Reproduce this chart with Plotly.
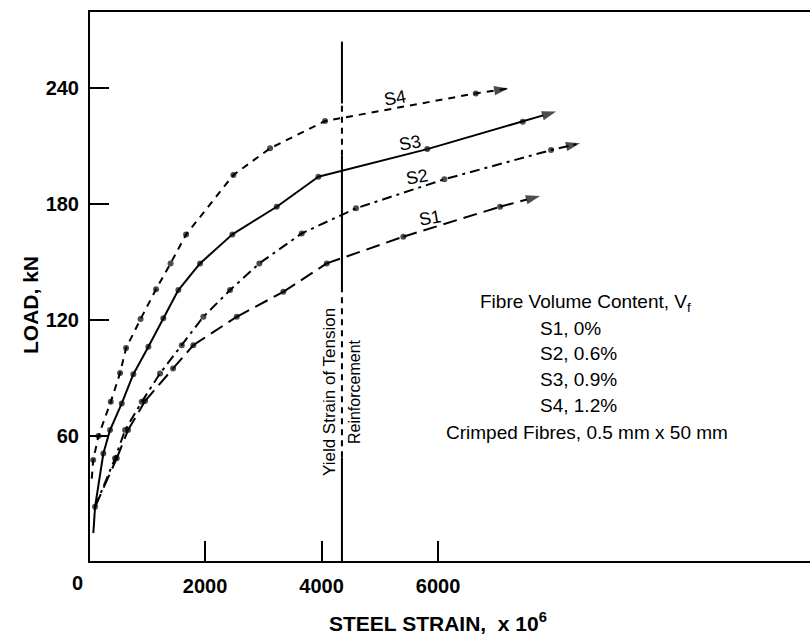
import plotly.graph_objects as go

# Load vs. steel strain (strain x 10^6, load in kN) for four fibre contents
S1_STRAIN = [112, 484, 678, 970, 1451, 1799, 2544, 3344, 4089, 5404, 7064]
S1_LOAD = [23.4, 48.5, 63.1, 78.1, 95.0, 107.0, 121.7, 134.6, 149.3, 163.1, 178.6]

S2_STRAIN = [112, 455, 627, 913, 1227, 1600, 1971, 2429, 2932, 3660, 4592, 6108, 7940]
S2_LOAD = [23.4, 48.5, 63.1, 77.7, 92.4, 107.0, 121.7, 135.5, 149.3, 164.8, 177.8, 192.8, 207.9]

S3_STRAIN = [82, 112, 254, 369, 570, 769, 1027, 1284, 1542, 1914, 2469, 3231, 3945, 5815, 7454]
S3_LOAD = [9.8, 23.4, 51.0, 63.1, 76.9, 92.0, 106.2, 120.9, 135.5, 149.3, 164.3, 178.6, 194.1, 208.4, 222.6]

S4_STRAIN = [55, 80, 170, 381, 541, 644, 893, 1159, 1408, 1674, 2486, 3116, 4060, 6647]
S4_LOAD = [38.0, 47.6, 60.0, 77.7, 92.6, 105.5, 120.5, 135.9, 149.3, 164.2, 195.0, 208.8, 222.9, 237.2]

# end points of the extrapolation arrows
ARROW_STRAIN = {"S1": 7751, "S2": 8438, "S3": 8026, "S4": 7207}
ARROW_LOAD = {"S1": 184.1, "S2": 211.4, "S3": 227.8, "S4": 239.8}

SERIES_NAMES = ["S1", "S2", "S3", "S4"]
LEGEND_LINES = ["S1, 0%", "S2, 0.6%", "S3, 0.9%", "S4, 1.2%"]

YIELD_STRAIN = 4350

X_TICKS = [2000, 4000, 6000]
Y_TICKS = [60, 120, 180, 240]

FONT = "Liberation Sans, Arial, sans-serif"

series = {
    "S1": (S1_STRAIN, S1_LOAD, "14px,7px"),
    "S2": (S2_STRAIN, S2_LOAD, "10px,5px,3px,5px"),
    "S3": (S3_STRAIN, S3_LOAD, "solid"),
    "S4": (S4_STRAIN, S4_LOAD, "7px,6px"),
}

fig = go.Figure()

for name in SERIES_NAMES:
    xs, ys, dash = series[name]
    x_all = list(xs) + [ARROW_STRAIN[name]]
    y_all = list(ys) + [ARROW_LOAD[name]]
    n = len(xs)
    fig.add_trace(go.Scatter(
        x=x_all, y=y_all, mode="lines+markers", name=name,
        line=dict(color="black", width=2, dash=dash),
        marker=dict(color="black",
                    symbol=["circle"] * n + ["arrow"],
                    size=[6] * n + [15],
                    angleref="previous",
                    line=dict(width=0)),
        showlegend=False, hoverinfo="skip",
    ))

# yield strain marker line: solid and broken stretches
yield_segments = [
    (-4.6, 49.0, "solid"),
    (49.0, 135.5, "6px,5px"),
    (135.5, 205.0, "solid"),
    (205.0, 232.0, "6px,5px"),
    (232.0, 264.0, "solid"),
]
for y0, y1, dash in yield_segments:
    fig.add_trace(go.Scatter(
        x=[YIELD_STRAIN, YIELD_STRAIN], y=[y0, y1], mode="lines",
        line=dict(color="black", width=2, dash=dash),
        showlegend=False, hoverinfo="skip",
    ))

annotations = []

# curve labels
label_pos = {"S4": (5262, 234.8), "S3": (5519, 211.5), "S2": (5640, 194.0), "S1": (5863, 172.7)}
for name in SERIES_NAMES:
    lx, ly = label_pos[name]
    annotations.append(dict(x=lx, y=ly, xref="x", yref="y", text=name, showarrow=False,
                            textangle=-10, xanchor="center", yanchor="middle",
                            font=dict(family=FONT, size=18, color="black")))

# yield line caption
annotations.append(dict(x=YIELD_STRAIN, y=83, xref="x", yref="y", text="Yield Strain of Tension",
                        showarrow=False, textangle=-90, xanchor="right", yanchor="middle", xshift=-1,
                        font=dict(family=FONT, size=17, color="black")))
annotations.append(dict(x=YIELD_STRAIN, y=83, xref="x", yref="y", text="Reinforcement",
                        showarrow=False, textangle=-90, xanchor="left", yanchor="middle", xshift=2,
                        font=dict(family=FONT, size=16, color="black")))

# fibre content key (pixel placed)
key_font = dict(family=FONT, size=19, color="black")
annotations.append(dict(x=585, y=303, text="Fibre Volume Content, V<sub>f</sub>",
                        showarrow=False, xanchor="center", font=key_font))
for i, line in enumerate(LEGEND_LINES):
    annotations.append(dict(x=538, y=328 + 25.7 * i, text=line, showarrow=False,
                            xanchor="left", font=key_font))
annotations.append(dict(x=587, y=432, text="Crimped Fibres, 0.5 mm x 50 mm", showarrow=False,
                        xanchor="center", font=key_font))

# axis titles and origin label (pixel placed)
title_font = dict(family=FONT, size=21, color="black")
annotations.append(dict(x=30, y=305, text="<b>LOAD, kN</b>", showarrow=False, textangle=-90,
                        xanchor="center", font=title_font))
annotations.append(dict(x=438, y=622, text="<b>STEEL STRAIN,  x 10<sup>6</sup></b>", showarrow=False,
                        xanchor="center", font=title_font))
annotations.append(dict(x=77, y=583, text="<b>0</b>", showarrow=False,
                        xanchor="center", font=dict(family=FONT, size=20, color="black")))

W, H = 810, 634
ML, MR, MT, MB = 90, 0, 12, 73

def px_to_paper(a):
    # convert pixel-positioned annotations into paper coordinates
    if a.get("xref") == "x":
        return a
    px, py = a["x"], a["y"]
    a["xref"] = "paper"
    a["yref"] = "paper"
    a["x"] = (px - ML) / (W - ML - MR)
    a["y"] = (H - MB - py) / (H - MT - MB)
    a["yanchor"] = "middle"
    return a

annotations = [px_to_paper(a) for a in annotations]

fig.update_layout(
    width=W, height=H,
    margin=dict(l=ML, r=MR, t=MT, b=MB),
    plot_bgcolor="white", paper_bgcolor="white",
    annotations=annotations,
    xaxis=dict(range=[25, 12385], showgrid=False, zeroline=False,
               showline=True, linecolor="black", linewidth=2, mirror=True,
               ticks="inside", ticklen=20, tickwidth=2, tickcolor="black",
               tickvals=X_TICKS, ticktext=[f"<b>{v}</b>" for v in X_TICKS],
               tickfont=dict(family=FONT, size=20, color="black"),
               ticklabelstandoff=6),
    yaxis=dict(range=[-4.6, 279.3], showgrid=False, zeroline=False,
               showline=True, linecolor="black", linewidth=2,
               ticks="inside", ticklen=19, tickwidth=2, tickcolor="black",
               tickvals=Y_TICKS, ticktext=[f"<b>{v}</b>" for v in Y_TICKS],
               tickfont=dict(family=FONT, size=20, color="black"),
               ticklabelstandoff=5),
)

fig.write_html("out.html")
